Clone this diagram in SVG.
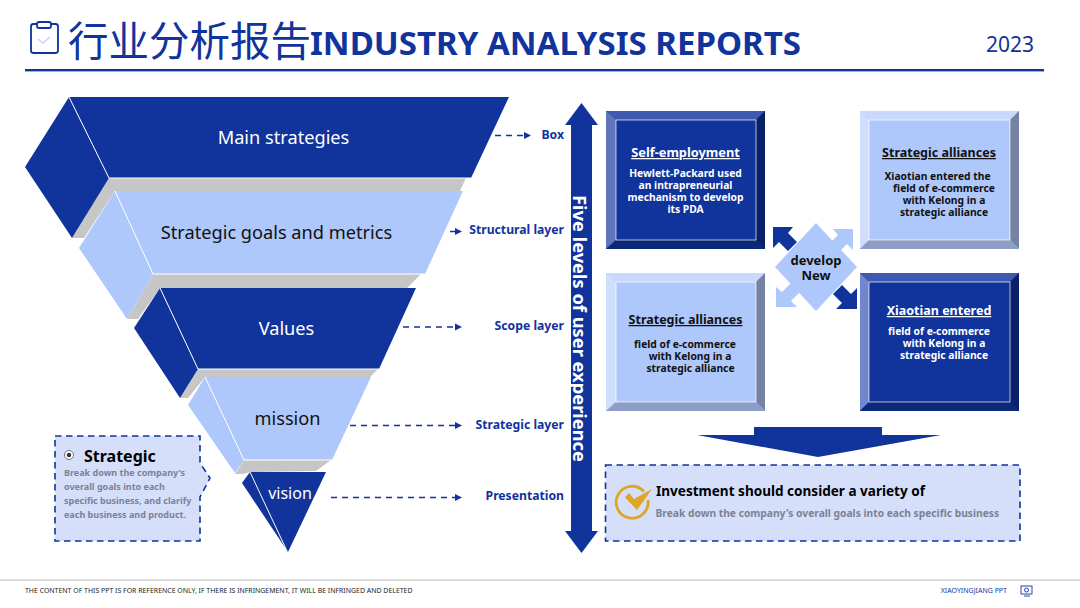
<svg xmlns="http://www.w3.org/2000/svg" width="1080" height="608" viewBox="0 0 1080 608">
<style>
text{font-family:"Noto Sans","Open Sans","Noto Sans CJK SC",sans-serif}
.d{fill:#10339c}.l{fill:#afc8fb}.g{fill:#c6c6c6}
.e{stroke:#fff;stroke-width:1;fill:none}
.lab{font-size:12.2px;font-weight:700;fill:#10339c;text-anchor:end}
.fw{font-size:18.2px;fill:#fff;text-anchor:middle}.fb{font-size:18.2px;fill:#111;text-anchor:middle}
.dash{stroke:#10339c;stroke-width:1.5;stroke-dasharray:6 5;fill:none}
.sol{stroke:#10339c;stroke-width:1.5;fill:none}
.ah{fill:#10339c}
.h{font-size:12.500px;font-weight:700;text-anchor:middle;text-decoration:underline}
.t{font-size:10.300px;font-weight:700;text-anchor:middle}
.w{fill:#fff}.k{fill:#111}
.in{fill:none;stroke:#fff;stroke-width:.8;stroke-opacity:.85}
.panel{fill:#d5dffa;stroke:#10339c;stroke-width:1.6;stroke-dasharray:6.5 4.5}
.gr{font-weight:700;fill:#7a8296}
</style>
<g id="header">
<rect x="31" y="24" width="27" height="29" rx="2.5" fill="none" stroke="#10339c" stroke-width="1.8"/>
<rect x="37" y="22" width="14" height="6" rx="2" fill="#fff" stroke="#10339c" stroke-width="1.8"/>
<path d="M38 39l5 4 7-6" fill="none" stroke="#c4d3f8" stroke-width="1.6"/>
<text x="68" y="56" font-size="40.500" fill="#10339c" style="font-family:'Noto Sans CJK SC',sans-serif;font-weight:400">行业分析报告</text>
<text x="310" y="55" font-size="33" font-weight="700" fill="#10339c">INDUSTRY ANALYSIS REPORTS</text>
<text x="1034" y="52" font-size="21" fill="#10339c" text-anchor="end">2023</text>
<rect x="25" y="69" width="1019" height="2.4" fill="#10339c"/>
</g>
<g id="funnel-1">
<polygon class="g" points="109,178 466,178 460,191 115,191 84,238 72,238"/>
<polygon class="d" points="69,97 25,167 72,238 109,178"/>
<polygon class="d" points="69,97 509,97 471,178 109,178"/>
<path class="e" d="M69,97 109,178 471,178"/>
<text class="fw" x="283.500" y="143.500">Main strategies</text>
</g>
<g id="funnel-2">
<polygon class="g" points="153,274 421,274 407,288 160,288 138,319 127,319"/>
<polygon class="l" points="115,191 79,248 127,319 153,274"/>
<polygon class="l" points="115,191 463,191 425,274 153,274"/>
<path class="e" d="M115,191 153,274 425,274"/>
<text class="fb" x="276.500" y="239">Strategic goals and metrics</text>
</g>
<g id="funnel-3">
<polygon class="g" points="198,369 378,369 370,377 205,377 188,398 180,398"/>
<polygon class="d" points="160,288 134,328 180,398 198,369"/>
<polygon class="d" points="160,288 416,288 379,369 198,369"/>
<path class="e" d="M160,288 198,369 379,369"/>
<text class="fw" x="286.500" y="334.500">Values</text>
</g>
<g id="funnel-4">
<polygon class="g" points="244,460 331,460 316,471 250,472 243,474 235,474"/>
<polygon class="l" points="205,377 188,405 235,473 244,460"/>
<polygon class="l" points="205,377 371,377 332,460 244,460"/>
<path class="e" d="M205,377 244,460 332,460"/>
<text class="fb" x="287.500" y="425">mission</text>
</g>
<g id="funnel-5">
<polygon class="d" points="250,472 326,472 288,552 242,483"/>
<path class="e" d="M250,472 287,551"/>
<text class="fw" x="290" y="499" style="font-size:16px">vision</text>
</g>
<g id="connectors">
<path class="dash" d="M495,135.500H524"/><polygon class="ah" points="524,132 531,135.500 524,139"/>
<path class="sol" d="M450,231.500H456"/><polygon class="ah" points="455,228 462,231.500 455,235"/>
<path class="dash" d="M403,327H456"/><polygon class="ah" points="455,323.500 462,327 455,330.500"/>
<path class="dash" d="M350,425.500H456"/><polygon class="ah" points="455,422 462,425.500 455,429"/>
<path class="dash" d="M331,497.500H456"/><polygon class="ah" points="455,494 462,497.500 455,501"/>
</g>
<g id="labels">
<text class="lab" x="564" y="139">Box</text>
<text class="lab" x="564" y="234">Structural layer</text>
<text class="lab" x="564" y="330">Scope layer</text>
<text class="lab" x="564" y="429">Strategic layer</text>
<text class="lab" x="564" y="500">Presentation</text>
</g>
<g id="axis">
<polygon class="d" points="581.500,103 598,125 592,125 592,531 598,531 581.500,553 565,531 571,531 571,125 565,125"/>
<text transform="translate(572.500,328.500) rotate(90)" font-size="18.300" font-weight="700" fill="#fff" text-anchor="middle">Five levels of user experience</text>
</g>
<g id="box-self-employment">
<rect x="606" y="111" width="159" height="138" fill="#10339c"/>
<polygon points="606,111 765,111 756,120 616,120" fill="#4059b0"/>
<polygon points="606,111 616,120 616,240 606,249" fill="#5f76bf"/>
<polygon points="765,111 756,120 756,240 765,249" fill="#0a2068"/>
<polygon points="606,249 616,240 756,240 765,249" fill="#0c2878"/>
<rect class="in" x="616" y="120" width="140" height="120"/>
<text class="h w" x="685.500" y="157" style="font-size:12.800px">Self-employment</text>
<text class="t w" x="685.500" y="177">Hewlett-Packard used</text>
<text class="t w" x="685.500" y="189">an intrapreneurial</text>
<text class="t w" x="685.500" y="201">mechanism to develop</text>
<text class="t w" x="685.500" y="213">its PDA</text>
</g>
<g id="box-strategic-alliances-1">
<rect x="860" y="111" width="159" height="138" fill="#afc8fb"/>
<polygon points="860,111 1019,111 1010,120 869,120" fill="#c9d8fd"/>
<polygon points="860,111 869,120 869,240 860,249" fill="#d0defe"/>
<polygon points="1019,111 1010,120 1010,240 1019,249" fill="#7682a2"/>
<polygon points="860,249 869,240 1010,240 1019,249" fill="#8e9dc8"/>
<rect class="in" x="869" y="120" width="141" height="120"/>
<text class="h k" x="939" y="157">Strategic alliances</text>
<text class="t k" x="937.500" y="180">Xiaotian entered the</text>
<text class="t k" x="944" y="192">field of e-commerce</text>
<text class="t k" x="944" y="204">with Kelong in a</text>
<text class="t k" x="944" y="216">strategic alliance</text>
</g>
<g id="box-strategic-alliances-2">
<rect x="606" y="273" width="159" height="138" fill="#afc8fb"/>
<polygon points="606,273 765,273 756,282 616,282" fill="#c9d8fd"/>
<polygon points="606,273 616,282 616,402 606,411" fill="#d0defe"/>
<polygon points="765,273 756,282 756,402 765,411" fill="#7682a2"/>
<polygon points="606,411 616,402 756,402 765,411" fill="#8e9dc8"/>
<rect class="in" x="616" y="282" width="140" height="120"/>
<text class="h k" x="685.500" y="324">Strategic alliances</text>
<text class="t k" x="685" y="348">field of e-commerce</text>
<text class="t k" x="690" y="360">with Kelong in a</text>
<text class="t k" x="690.500" y="372">strategic alliance</text>
</g>
<g id="box-xiaotian-entered">
<rect x="860" y="273" width="159" height="138" fill="#10339c"/>
<polygon points="860,273 1019,273 1010,282 869,282" fill="#4059b0"/>
<polygon points="860,273 869,282 869,402 860,411" fill="#7186cc"/>
<polygon points="1019,273 1010,282 1010,402 1019,411" fill="#0a2068"/>
<polygon points="860,411 869,402 1010,402 1019,411" fill="#0c2878"/>
<rect class="in" x="869" y="282" width="141" height="120"/>
<text class="h w" x="939" y="315">Xiaotian entered</text>
<text class="t w" x="939" y="335">field of e-commerce</text>
<text class="t w" x="944" y="347">with Kelong in a</text>
<text class="t w" x="944" y="359">strategic alliance</text>
</g>
<g id="develop-new">
<polygon class="d" points="773,227 793,227 788,233 797,242 788,251 779,242 773,248"/>
<polygon class="d" points="857,309 836,309 842,303 833,294 842,285 851,294 857,288"/>
<polygon class="l" points="816,223 857,267 816,311 775,267"/>
<polygon class="l" points="853,229 833,229 838,235 829,244 838,253 847,244 853,250"/>
<polygon class="l" points="776,307 776,287 782,292 791,283 800,292 791,301 797,307"/>
<text class="k" x="816" y="265" font-size="13" font-weight="700" text-anchor="middle">develop</text>
<text class="k" x="816" y="280" font-size="13" font-weight="700" text-anchor="middle">New</text>
</g>
<g id="down-arrow">
<polygon class="d" points="754,427 882,427 882,435 941,435 818,457 697,435 754,435"/>
</g>
<g id="callout-strategic">
<path class="panel" d="M55,436H200V463L210,478 200,497V541H55Z"/>
<circle cx="69" cy="455" r="4.500" fill="#fff" stroke="#555" stroke-width="0.8"/><circle cx="69" cy="455" r="2.200" fill="#333"/>
<text x="84" y="462" font-size="16" font-weight="700" fill="#000">Strategic</text>
<text class="gr" x="64" y="476" font-size="9">Break down the company's</text>
<text class="gr" x="64" y="490" font-size="9">overall goals into each</text>
<text class="gr" x="64" y="504" font-size="9">specific business, and clarify</text>
<text class="gr" x="64" y="518" font-size="9">each business and product.</text>
</g>
<g id="panel-investment">
<rect class="panel" x="605.500" y="465" width="414.500" height="76"/>
<path d="M644,491.500A16,16 0 1 0 648,500" fill="none" stroke="#dfa524" stroke-width="2.800"/>
<polygon points="625,497.500 629,493 634,499 652,489 637,510" fill="#dfa524"/>
<text x="656" y="496" font-size="13.550" font-weight="700" fill="#000">Investment should consider a variety of</text>
<text class="gr" x="655.500" y="517" font-size="10.250">Break down the company's overall goals into each specific business</text>
</g>
<g id="footer">
<rect x="0" y="579.500" width="1080" height="1.200" fill="#c4c4c4"/>
<text x="25" y="593" font-size="6.950" fill="#222">THE CONTENT OF THIS PPT IS FOR REFERENCE ONLY, IF THERE IS INFRINGEMENT, IT WILL BE INFRINGED AND DELETED</text>
<text x="1007" y="593" font-size="7" fill="#10339c" text-anchor="end">XIAOYINGJIANG PPT</text>
<rect x="1021" y="586" width="11" height="8" fill="none" stroke="#10339c" stroke-width="0.900"/>
<circle cx="1026.500" cy="590" r="2" fill="none" stroke="#10339c" stroke-width="0.900"/>
<path d="M1024,596h6" stroke="#10339c" stroke-width="0.900"/>
</g>
</svg>
